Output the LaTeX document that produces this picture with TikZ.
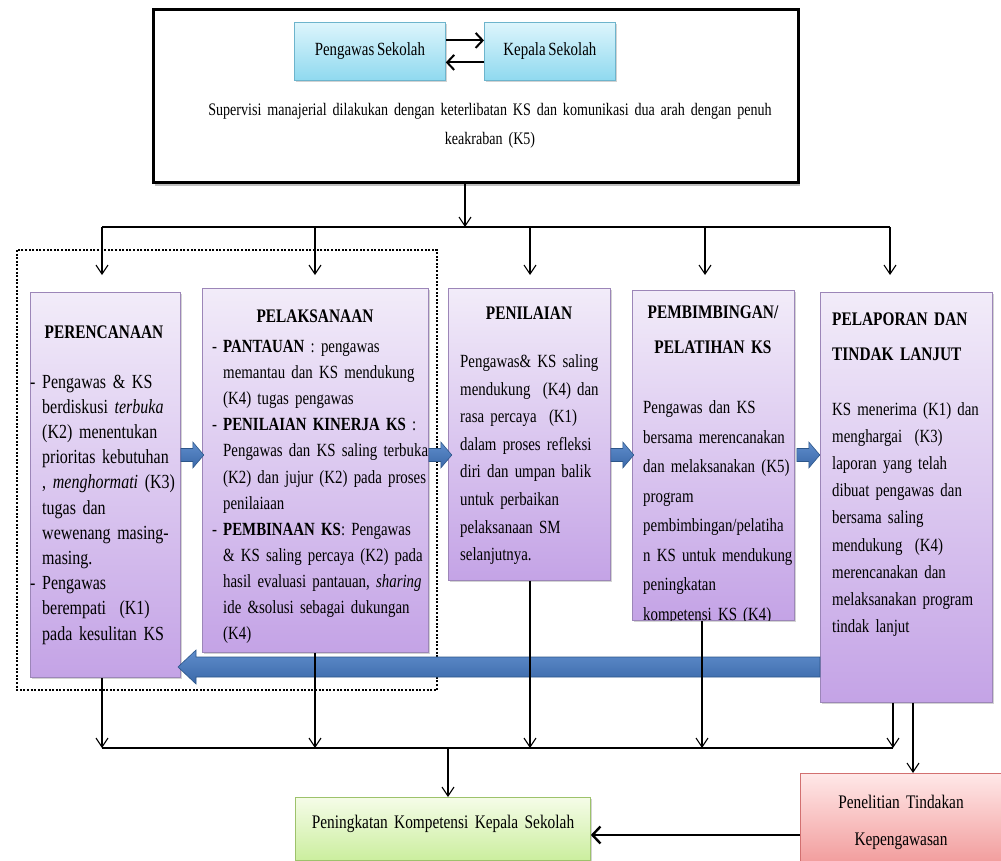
\documentclass[tikz,border=0pt]{standalone}
\usepackage{fontspec}
\setmainfont{Liberation Serif}[FakeStretch=0.8, WordSpace=0.75]
\usetikzlibrary{arrows.meta,shadows}

\definecolor{cyanTop}{HTML}{DDF5FC}
\definecolor{cyanBot}{HTML}{8FD9EF}
\definecolor{cyanLine}{HTML}{6DB4CC}
\definecolor{lilacTop}{HTML}{F2ECF9}
\definecolor{lilacBot}{HTML}{C4A3E6}
\definecolor{lilacLine}{HTML}{9C86B8}
\definecolor{greenTop}{HTML}{F5FCE8}
\definecolor{greenBot}{HTML}{CBEE9E}
\definecolor{greenLine}{HTML}{9DC26B}
\definecolor{redTop}{HTML}{FFE8E8}
\definecolor{redBot}{HTML}{F29E9E}
\definecolor{redLine}{HTML}{D27070}
\definecolor{flowBlue}{HTML}{3A68A8}
\definecolor{flowBlueLight}{HTML}{5F8DCC}
\definecolor{flowBlueDark}{HTML}{2C5689}

% hanging dash for list items inside the stage texts
\newcommand\itemdash{\leavevmode\llap{-\ }}

\tikzset{
  softshadow/.style={drop shadow={opacity=0.35, shadow xshift=2pt, shadow yshift=-2pt}},
  supframe/.style={draw=black, line width=3pt, fill=white, inner sep=0pt, anchor=north west,
    drop shadow={opacity=0.5, shadow xshift=1pt, shadow yshift=-3pt}},
  actor/.style={draw=cyanLine, line width=0.8pt, top color=cyanTop, bottom color=cyanBot,
    softshadow, inner sep=0pt, anchor=north west, font=\fontsize{18.6}{20}\selectfont},
  stage/.style={draw=lilacLine, line width=0.8pt, top color=lilacTop, bottom color=lilacBot,
    softshadow, inner sep=0pt, anchor=north west},
  outcome/.style={draw=greenLine, line width=0.8pt, top color=greenTop, bottom color=greenBot,
    softshadow, inner sep=0pt, anchor=north west},
  research/.style={draw=redLine, line width=0.8pt, top color=redTop, bottom color=redBot,
    softshadow, inner sep=0pt, anchor=north west},
  plaintext/.style={inner sep=0pt, anchor=base, text width=300pt, align=center,
    font=\fontsize{19.2}{#1}\selectfont},
  bodytext/.style={inner sep=0pt, anchor=base west, text width=250pt, align=left,
    font=\fontsize{18.6}{#1}\selectfont},
  headtext/.style={inner sep=0pt, anchor=base, text width=220pt, align=center,
    font=\bfseries\fontsize{19.2}{35}\selectfont},
  bus/.style={line width=1.1pt},
  conn/.style={line width=1.1pt, -{Straight Barb[length=9pt,width=12pt]}},
  twoway/.style={line width=2pt, -{Straight Barb[length=7pt,width=15pt]}},
  feed/.style={line width=2.4pt, -{Straight Barb[length=8pt,width=17pt]}},
  dotframe/.style={line width=2.6pt, dash pattern=on 2pt off 1.6pt},
  blockarrow/.style={draw=flowBlueDark, line width=0.6pt, top color=flowBlueLight, bottom color=flowBlue},
  steparrow/.pic={
    \path[blockarrow] (0,-6.5) -- (12,-6.5) -- (12,-13) -- (23,0) -- (12,13) -- (12,6.5) -- (0,6.5) -- cycle;
  }
}

\begin{document}
\begin{tikzpicture}[x=1pt,y=-1pt]
\useasboundingbox (0,0) rectangle (1001,860);

% ---------- supervision frame ----------
\node[supframe, minimum width=645pt, minimum height=173pt] (sup) at (152,8) {};
\node[actor, minimum width=151pt, minimum height=58pt] (ps) at (294,22) {Pengawas Sekolah};
\node[actor, minimum width=131pt, minimum height=58pt] (kp) at (484,22) {Kepala Sekolah};
\draw[twoway] ([yshift=11pt]ps.east) -- ([yshift=11pt]kp.west);
\draw[twoway] ([yshift=-11pt]kp.west) -- ([yshift=-11pt]ps.east);
\node[inner sep=0pt, anchor=base, text width=640pt, align=center,
      font=\fontsize{17.6}{29}\selectfont] (suptext) at (490,115)
  {Supervisi manajerial dilakukan dengan keterlibatan KS dan komunikasi dua arah dengan penuh\\ keakraban (K5)};

% ---------- dotted grouping of planning and execution ----------
\draw[dotframe] (17,250) rectangle (437,690);

% ---------- stage boxes ----------
\node[stage, minimum width=150pt, minimum height=385pt] (b1) at (30,292) {};
\node[stage, minimum width=226pt, minimum height=364pt] (b2) at (202,288) {};
\node[stage, minimum width=162pt, minimum height=292pt] (b3) at (448,288) {};
\node[stage, minimum width=162pt, minimum height=330pt] (b4) at (632,290) {};
\node[stage, minimum width=172pt, minimum height=410pt] (b5) at (820,292) {};

% headings
\node[headtext] (h1) at (104,338) {PERENCANAAN};
\node[headtext] (h2) at (315,322) {PELAKSANAAN};
\node[headtext] (h3) at (529,319.5) {PENILAIAN};
\node[headtext] (h4) at (713,318.5) {PEMBIMBINGAN/\\PELATIHAN KS};
\node[headtext, text width=170pt, align=left, anchor=base west] (h5) at (832,325) {PELAPORAN DAN\\TINDAK LANJUT};

% body texts
\node[bodytext=25.2, font=\fontsize{20}{25.2}\selectfont] (t1) at (42,388)
  {\itemdash Pengawas \& KS\\
   berdiskusi \textit{terbuka}\\
   (K2) menentukan\\
   prioritas kebutuhan\\
   , \textit{menghormati} (K3)\\
   tugas dan\\
   wewenang masing-\\
   masing.\\
   \itemdash Pengawas\\
   berempati\ \ (K1)\\
   pada kesulitan KS};
\node[bodytext=26.1] (t2) at (223,352.5)
  {\itemdash\textbf{PANTAUAN} : pengawas\\
   memantau dan KS mendukung\\
   (K4) tugas pengawas\\
   \itemdash\textbf{PENILAIAN KINERJA KS} :\\
   Pengawas dan KS saling terbuka\\
   (K2) dan jujur (K2) pada proses\\
   penilaiaan\\
   \itemdash\textbf{PEMBINAAN KS}: Pengawas\\
   \& KS saling percaya (K2) pada\\
   hasil evaluasi pantauan, \textit{sharing}\\
   ide \&solusi sebagai dukungan\\
   (K4)};
\node[bodytext=27.6] (t3) at (460,367.5)
  {Pengawas\& KS saling\\
   mendukung\ \ (K4) dan\\
   rasa percaya\ \ (K1)\\
   dalam proses refleksi\\
   diri dan umpan balik\\
   untuk perbaikan\\
   pelaksanaan SM\\
   selanjutnya.};
\begin{scope}
  \clip (b4.north west) rectangle (b4.south east);
  \node[bodytext=29.5] (t4) at (643,413.5)
    {Pengawas dan KS\\
     bersama merencanakan\\
     dan melaksanakan (K5)\\
     program\\
     pembimbingan/pelatiha\\
     n KS untuk mendukung\\
     peningkatan\\
     kompetensi KS (K4)};
\end{scope}
\node[bodytext=27.1] (t5) at (832,415.5)
  {KS menerima (K1) dan\\
   menghargai\ \ (K3)\\
   laporan yang telah\\
   dibuat pengawas dan\\
   bersama saling\\
   mendukung\ \ (K4)\\
   merencanakan dan\\
   melaksanakan program\\
   tindak lanjut};

% ---------- block arrows between stages ----------
\coordinate (flowrow) at (0,455);
\pic at (b1.east |- flowrow) {steparrow};
\pic at (b2.east |- flowrow) {steparrow};
\pic at (b3.east |- flowrow) {steparrow};
\pic at ([xshift=2pt]b4.east |- flowrow) {steparrow};
% feedback from reporting back to planning
\path[blockarrow] (b5.west |- 0,657) -- (196,657) -- (196,650) -- (178,667)
  -- (196,684) -- (196,677) -- (b5.west |- 0,677) -- cycle;

% ---------- distribution bus from supervision ----------
\coordinate (busT) at (465,227);
\coordinate (busTL) at (102,227);
\coordinate (busTR) at (890,227);
\coordinate (in1) at (102,275);
\coordinate (in2) at (315,275);
\coordinate (in3) at (530,275);
\coordinate (in4) at (705,275);
\coordinate (in5) at (890,275);
\draw[conn] (sup.south -| busT) -- (busT);
\draw[bus] (busTL) -- (busTR);
\foreach \k in {1,...,5} \draw[conn] (in\k |- busT) -- (in\k);

% ---------- collecting bus towards the outcome ----------
\node[outcome, minimum width=295pt, minimum height=63pt] (goal) at (295,797) {};
\node[plaintext=22] (goaltext) at (443,828) {Peningkatan Kompetensi Kepala Sekolah};
\node[research, minimum width=206pt, minimum height=88pt] (ptk) at (800,773) {};
\node[plaintext=37] (ptktext) at (901,808) {Penelitian Tindakan\\Kepengawasan};

\coordinate (out1) at (102,748);
\coordinate (out2) at (315,748);
\coordinate (out3) at (530,748);
\coordinate (out4) at (702,748);
\coordinate (out5) at (893,748);
\coordinate (drop) at (448,748);
\coordinate (side) at (913,0);
\draw[conn] (b1.south -| out1) -- (out1);
\draw[conn] (b2.south -| out2) -- (out2);
\draw[conn] (b3.south -| out3) -- (out3);
\draw[conn] (b4.south -| out4) -- (out4);
\draw[conn] (b5.south -| out5) -- (out5);
\draw[bus] (out1) -- (out5);
\draw[conn] (drop) -- (drop |- goal.north);
\draw[conn] (b5.south -| side) -- (ptk.north -| side);
\draw[feed] (ptk.west |- 0,835) -- (goal.east |- 0,835);
\end{tikzpicture}
\end{document}
